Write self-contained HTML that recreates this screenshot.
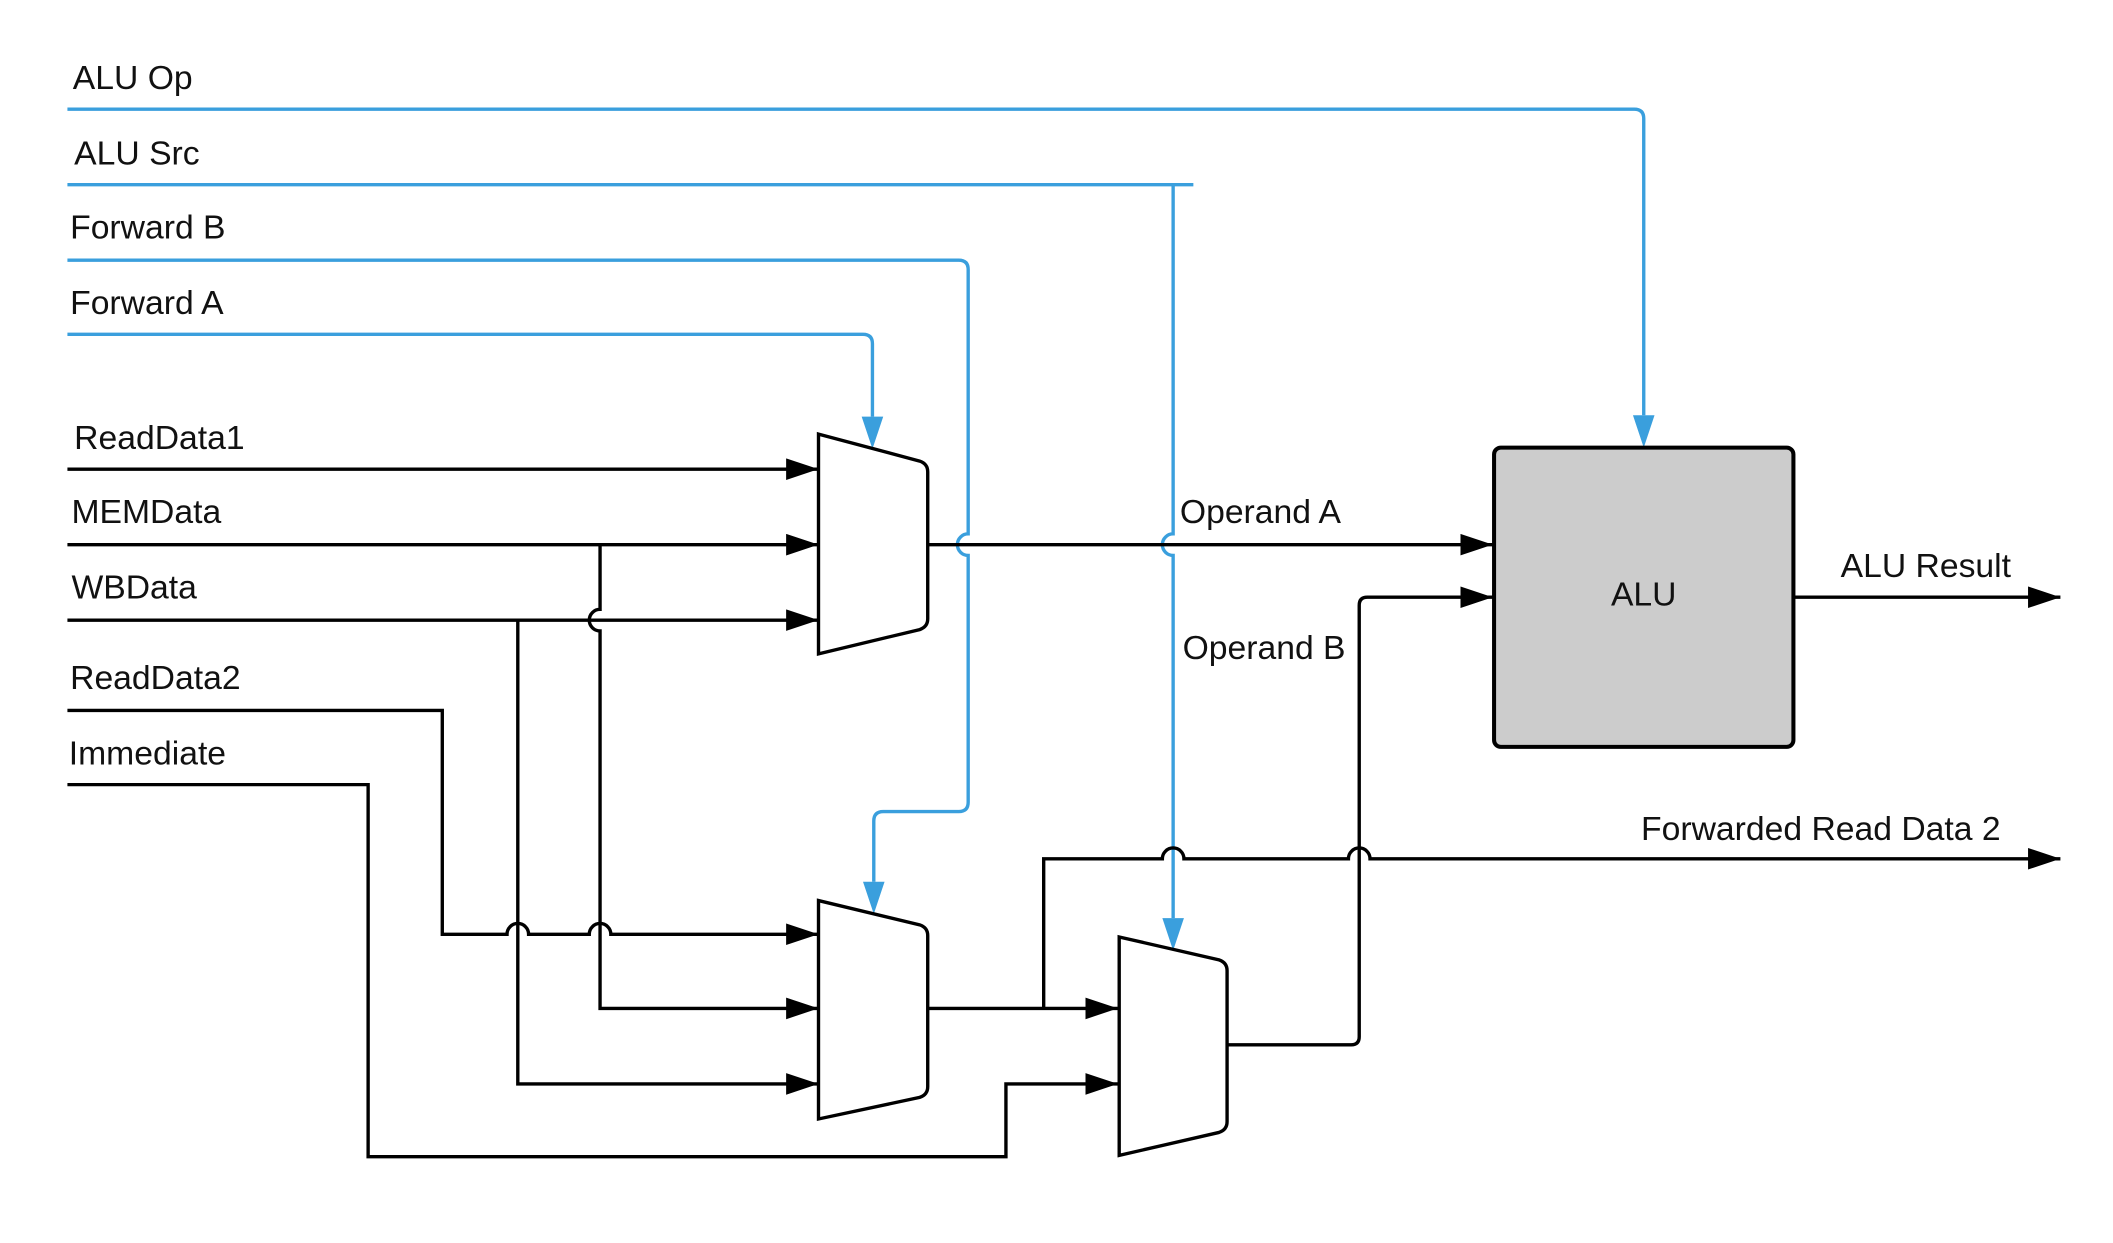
<!DOCTYPE html>
<html><head><meta charset="utf-8"><style>
html,body{margin:0;padding:0;background:#fff;}
svg{display:block;}
text{font-family:"Liberation Sans",sans-serif;font-size:25px;fill:#111;}
</style></head><body>
<svg width="2113" height="1243" viewBox="0 0 1567 922" preserveAspectRatio="none" xmlns="http://www.w3.org/2000/svg">
<defs>
<marker id="ak" markerUnits="userSpaceOnUse" markerWidth="26" markerHeight="18" refX="24" refY="8" orient="auto"><path d="M0,0 L24,8 L0,16 Z" fill="#000"/></marker>
</defs>
<g fill="none" stroke="#3a9fdd" stroke-width="2.5">
<path d="M50 81 H1212 Q1219 81 1219 88 V308" />
<path d="M50 137 H885" />
<path d="M870 137 V396 A8 8 0 0 0 870 412 V681"/>
<path d="M50 193 H711 Q718 193 718 200 V396 A8 8 0 0 0 718 412 V595 Q718 602 711 602 H655 Q648 602 648 609 V654"/>
<path d="M50 248 H640 Q647 248 647 255 V309"/>
</g>
<g fill="#3a9fdd">
<path d="M1211 308 L1227 308 L1219 332 Z"/>
<path d="M862 681 L878 681 L870 705 Z"/>
<path d="M640 654 L656 654 L648 678 Z"/>
<path d="M639 309 L655 309 L647 333 Z"/>
</g>
<g fill="none" stroke="#000" stroke-width="2.5">
<path d="M50 348 H607" marker-end="url(#ak)"/>
<path d="M50 404 H607" marker-end="url(#ak)"/>
<path d="M50 460 H607" marker-end="url(#ak)"/>
<path d="M688 404 H1107" marker-end="url(#ak)"/>
<path d="M445 404 V452 A8 8 0 0 0 445 468 V748 H607" marker-end="url(#ak)"/>
<path d="M384 460 V804 H607" marker-end="url(#ak)"/>
<path d="M50 527 H328 V693 H376 A8 8 0 0 1 392 693 H437 A8 8 0 0 1 453 693 H607" marker-end="url(#ak)"/>
<path d="M50 582 H273 V858 H746 V804 H829" marker-end="url(#ak)"/>
<path d="M688 748 H829" marker-end="url(#ak)"/>
<path d="M774 748 V637 H862 A8 8 0 0 1 878 637 H1000 A8 8 0 0 1 1016 637 H1528" marker-end="url(#ak)"/>
<path d="M910 775 H1002 Q1008 775 1008 769 V449 Q1008 443 1014 443 H1107" marker-end="url(#ak)"/>
<path d="M1330 443 H1528" marker-end="url(#ak)"/>
<path d="M607 322 L682 342 Q688 344 688 350 V459 Q688 465 682 467 L607 485 Z"/>
<path d="M607 668 L682 686 Q688 688 688 694 V806 Q688 812 682 814 L607 830 Z"/>
<path d="M830 695 L904 712 Q910 714 910 720 V832 Q910 838 904 840 L830 857 Z"/>
</g>
<rect x="1108" y="332" width="222" height="222" rx="5" fill="#cccccc" stroke="#000" stroke-width="3"/>
<text x="1219" y="449" text-anchor="middle">ALU</text>
<text x="54" y="66">ALU Op</text>
<text x="55" y="122">ALU Src</text>
<text x="52" y="177">Forward B</text>
<text x="52" y="233">Forward A</text>
<text x="55" y="333">ReadData1</text>
<text x="53" y="388">MEMData</text>
<text x="53" y="444">WBData</text>
<text x="52" y="511">ReadData2</text>
<text x="51" y="567">Immediate</text>
<text x="875" y="388">Operand A</text>
<text x="877" y="489">Operand B</text>
<text x="1365" y="428">ALU Result</text>
<text x="1217" y="623">Forwarded Read Data 2</text>
</svg>
</body></html>
